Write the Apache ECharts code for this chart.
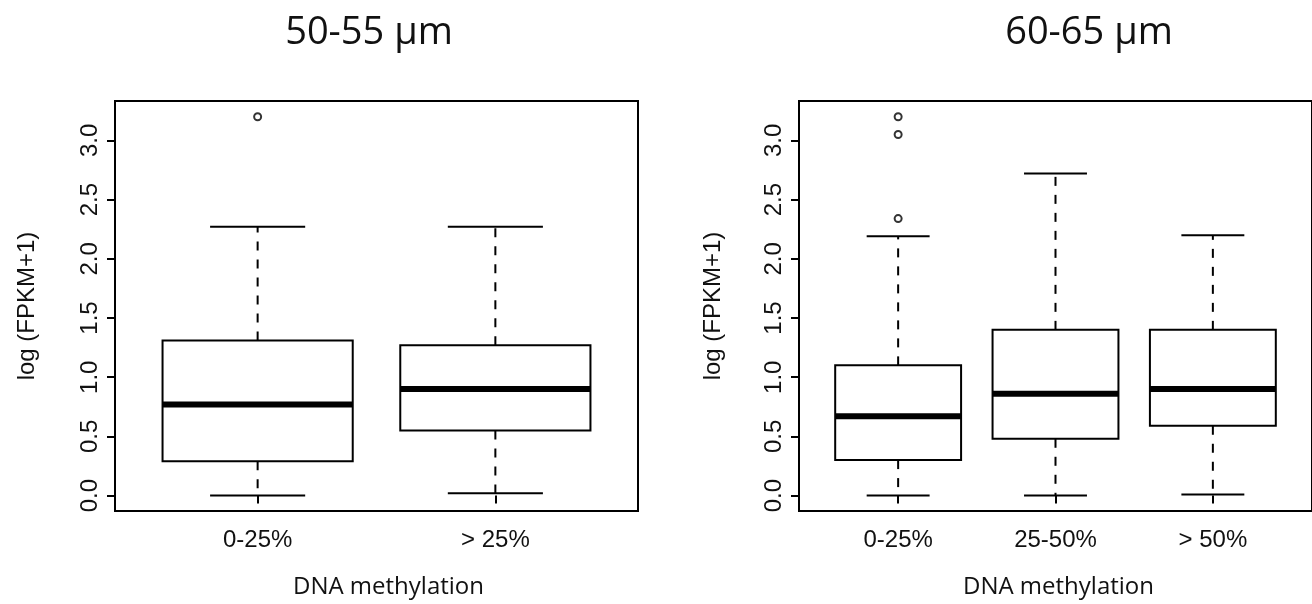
<!DOCTYPE html>
<html>
<head>
<meta charset="utf-8">
<script src="https://cdn.jsdelivr.net/npm/echarts@6/dist/echarts.min.js"></script>
<style>
  html, body { margin: 0; padding: 0; background: #fff; }
  #chart { width: 1312px; height: 604px; }
</style>
</head>
<body>
<div id="chart"></div>
<script>
// Panel titles
const panelTitles = ['50-55 \u00b5m', '60-65 \u00b5m'];

// Left panel: methylation groups and box statistics [lower whisker, Q1, median, Q3, upper whisker]
const categoriesA = ['0-25%', '> 25%'];
const statsA = [
  [0.00, 0.29, 0.77, 1.31, 2.27],
  [0.02, 0.55, 0.90, 1.27, 2.27]
];
// [group index (1-based), value]
const outliersA = [[1, 3.20]];

// Right panel
const categoriesB = ['0-25%', '25-50%', '> 50%'];
const statsB = [
  [0.00, 0.30, 0.67, 1.10, 2.19],
  [0.00, 0.48, 0.86, 1.40, 2.72],
  [0.01, 0.59, 0.90, 1.40, 2.20]
];
const outliersB = [[1, 2.34], [1, 3.05], [1, 3.20]];

// Y axis ticks
const yTicks = [0, 0.5, 1.0, 1.5, 2.0, 2.5, 3.0];

const R_FONT = 'Liberation Sans';
const LABEL_FONT = 'Open Sans';

function boxData(stats) {
  return stats.map((s, i) => [i + 1].concat(s));
}

// R-style box: dashed whiskers, staples, white box, heavy median
function renderBox(params, api) {
  const x = api.value(0);
  const lo = api.value(1), q1 = api.value(2), med = api.value(3), q3 = api.value(4), hi = api.value(5);
  const halfBox = api.size([0.4, 0])[0];
  const halfCap = api.size([0.2, 0])[0];
  const cx = api.coord([x, 0])[0];
  const yLo = api.coord([x, lo])[1];
  const yQ1 = api.coord([x, q1])[1];
  const yMed = api.coord([x, med])[1];
  const yQ3 = api.coord([x, q3])[1];
  const yHi = api.coord([x, hi])[1];
  const line = (x1, y1, x2, y2, w, dash) => ({
    type: 'line',
    shape: { x1, y1, x2, y2 },
    style: { stroke: '#000', lineWidth: w, lineDash: dash || null }
  });
  return {
    type: 'group',
    children: [
      line(cx, yQ3, cx, yHi, 2, [9, 9]),
      line(cx, yQ1, cx, yLo, 2, [9, 9]),
      line(cx - halfCap, yHi, cx + halfCap, yHi, 2),
      line(cx - halfCap, yLo, cx + halfCap, yLo, 2),
      {
        type: 'rect',
        shape: { x: cx - halfBox, y: yQ3, width: halfBox * 2, height: yQ1 - yQ3 },
        style: { fill: '#fff', stroke: '#000', lineWidth: 2 }
      },
      line(cx - halfBox, yMed, cx + halfBox, yMed, 6)
    ]
  };
}

function xAxisFor(gridIndex, cats, min, max, namePad) {
  const idx = cats.map((c, i) => i + 1);
  return {
    type: 'value', gridIndex, min, max,
    name: 'DNA methylation', nameLocation: 'middle', nameGap: 64,
    nameTextStyle: { fontFamily: LABEL_FONT, fontSize: 24, color: '#111', padding: namePad },
    splitLine: { show: false },
    axisLine: { show: false },
    axisTick: { show: true, inside: false, length: 8, customValues: idx, lineStyle: { color: '#000', width: 2 } },
    axisLabel: {
      customValues: idx, margin: 17,
      fontFamily: R_FONT, fontSize: 24, color: '#111',
      formatter: v => cats[Math.round(v) - 1]
    }
  };
}

function yAxisFor(gridIndex, nameGap) {
  return {
    type: 'value', gridIndex, min: -0.13, max: 3.333,
    name: 'log (FPKM+1)', nameLocation: 'middle', nameGap, nameRotate: 90,
    nameTextStyle: { fontFamily: R_FONT, fontSize: 24, color: '#111' },
    splitLine: { show: false },
    axisLine: { show: false },
    axisTick: { show: true, inside: false, length: 8, customValues: yTicks, lineStyle: { color: '#000', width: 2 } },
    axisLabel: {
      customValues: yTicks, rotate: 90, margin: 13,
      fontFamily: R_FONT, fontSize: 24, color: '#111',
      formatter: v => v.toFixed(1)
    }
  };
}

const chart = echarts.init(document.getElementById('chart'), null, { renderer: 'canvas' });

const titleStyle = { fontFamily: LABEL_FONT, fontSize: 38, fontWeight: 'normal', color: '#111' };

chart.setOption({
  backgroundColor: '#fff',
  animation: false,
  title: [
    { text: panelTitles[0], left: 364, top: 9, textAlign: 'center', textStyle: titleStyle },
    { text: panelTitles[1], left: 1084, top: 9, textAlign: 'center', textStyle: titleStyle }
  ],
  grid: [
    { left: 115, width: 523, top: 101, height: 413, show: true, borderColor: '#000', borderWidth: 2, backgroundColor: 'transparent' },
    { left: 799, width: 522, top: 101, height: 413, show: true, borderColor: '#000', borderWidth: 2, backgroundColor: 'transparent' }
  ],
  xAxis: [
    xAxisFor(0, categoriesA, 0.4, 2.6, [0, 0, 0, 24]),
    xAxisFor(1, categoriesB, 0.37, 3.63, [0, 0, 0, 6])
  ],
  yAxis: [yAxisFor(0, 76), yAxisFor(1, 74)],
  series: [
    { type: 'custom', xAxisIndex: 0, yAxisIndex: 0, renderItem: renderBox, data: boxData(statsA), clip: false },
    { type: 'custom', xAxisIndex: 1, yAxisIndex: 1, renderItem: renderBox, data: boxData(statsB), clip: false },
    { type: 'scatter', xAxisIndex: 0, yAxisIndex: 0, data: outliersA, symbol: 'circle', symbolSize: 7,
      itemStyle: { color: '#fff', borderColor: '#000', borderWidth: 2 } },
    { type: 'scatter', xAxisIndex: 1, yAxisIndex: 1, data: outliersB, symbol: 'circle', symbolSize: 7,
      itemStyle: { color: '#fff', borderColor: '#000', borderWidth: 2 } }
  ]
});
</script>
</body>
</html>
